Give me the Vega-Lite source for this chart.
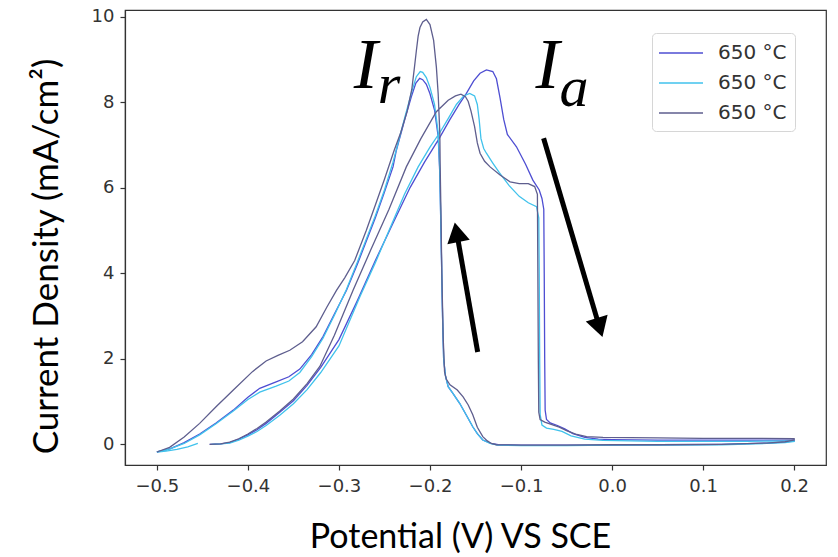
{
  "$schema": "https://vega.github.io/schema/vega-lite/v6.json",
  "autosize": "none",
  "width": 701,
  "height": 455,
  "padding": {"left": 125, "top": 10, "right": 12, "bottom": 92},
  "background": "white",
  "config": {
    "view": {"stroke": "#333333", "strokeWidth": 1.2},
    "axis": {
      "grid": false,
      "domainColor": "#333333",
      "domainWidth": 1.2,
      "tickColor": "#333333",
      "tickSize": 5,
      "tickWidth": 1.2,
      "labelFont": "DejaVu Sans",
      "labelFontSize": 18,
      "labelColor": "#333333",
      "titleFont": "Lato",
      "titleFontSize": 34,
      "titleFontWeight": "normal",
      "titleColor": "#000000"
    }
  },
  "datasets": {
    "curves": [
      {"s":"A","o":1,"v":-0.442,"i":0.0},{"s":"A","o":2,"v":-0.43,"i":0.01},{"s":"A","o":3,"v":-0.42,"i":0.04},{"s":"A","o":4,"v":-0.41,"i":0.12},{"s":"A","o":5,"v":-0.40,"i":0.22},{"s":"A","o":6,"v":-0.39,"i":0.34},{"s":"A","o":7,"v":-0.38,"i":0.49},{"s":"A","o":8,"v":-0.365,"i":0.75},{"s":"A","o":9,"v":-0.35,"i":1.02},{"s":"A","o":10,"v":-0.335,"i":1.38},{"s":"A","o":11,"v":-0.32,"i":1.8},{"s":"A","o":12,"v":-0.30,"i":2.45},{"s":"A","o":13,"v":-0.28,"i":3.35},{"s":"A","o":14,"v":-0.26,"i":4.3},{"s":"A","o":15,"v":-0.24,"i":5.2},{"s":"A","o":16,"v":-0.222,"i":6.0},{"s":"A","o":17,"v":-0.206,"i":6.6},{"s":"A","o":18,"v":-0.19,"i":7.15},{"s":"A","o":19,"v":-0.178,"i":7.6},{"s":"A","o":20,"v":-0.168,"i":7.95},{"s":"A","o":21,"v":-0.16,"i":8.21},{"s":"A","o":22,"v":-0.152,"i":8.5},{"s":"A","o":23,"v":-0.145,"i":8.68},{"s":"A","o":24,"v":-0.138,"i":8.76},{"s":"A","o":25,"v":-0.131,"i":8.72},{"s":"A","o":26,"v":-0.127,"i":8.55},{"s":"A","o":27,"v":-0.123,"i":8.1},{"s":"A","o":28,"v":-0.119,"i":7.6},{"s":"A","o":29,"v":-0.115,"i":7.25},{"s":"A","o":30,"v":-0.105,"i":6.96},{"s":"A","o":31,"v":-0.095,"i":6.55},{"s":"A","o":32,"v":-0.087,"i":6.18},{"s":"A","o":33,"v":-0.08,"i":5.95},{"s":"A","o":34,"v":-0.077,"i":5.75},{"s":"A","o":35,"v":-0.075,"i":5.5},{"s":"A","o":36,"v":-0.0745,"i":4.0},{"s":"A","o":37,"v":-0.074,"i":2.0},{"s":"A","o":38,"v":-0.0735,"i":0.8},{"s":"A","o":39,"v":-0.072,"i":0.58},{"s":"A","o":40,"v":-0.068,"i":0.5},{"s":"A","o":41,"v":-0.06,"i":0.44},{"s":"A","o":42,"v":-0.052,"i":0.36},{"s":"A","o":43,"v":-0.043,"i":0.25},{"s":"A","o":44,"v":-0.03,"i":0.16},{"s":"A","o":45,"v":-0.015,"i":0.12},{"s":"A","o":46,"v":0.0,"i":0.11},{"s":"A","o":47,"v":0.05,"i":0.1},{"s":"A","o":48,"v":0.1,"i":0.1},{"s":"A","o":49,"v":0.15,"i":0.1},{"s":"A","o":50,"v":0.18,"i":0.1},{"s":"A","o":51,"v":0.2,"i":0.1},{"s":"A","o":52,"v":0.2,"i":0.08},{"s":"A","o":53,"v":0.19,"i":0.05},{"s":"A","o":54,"v":0.17,"i":0.03},{"s":"A","o":55,"v":0.12,"i":0.0},{"s":"A","o":56,"v":0.05,"i":-0.01},{"s":"A","o":57,"v":0.0,"i":-0.02},{"s":"A","o":58,"v":-0.05,"i":-0.02},{"s":"A","o":59,"v":-0.1,"i":-0.02},{"s":"A","o":60,"v":-0.125,"i":-0.01},{"s":"A","o":61,"v":-0.133,"i":0.02},{"s":"A","o":62,"v":-0.142,"i":0.1},{"s":"A","o":63,"v":-0.148,"i":0.25},{"s":"A","o":64,"v":-0.153,"i":0.41},{"s":"A","o":65,"v":-0.16,"i":0.68},{"s":"A","o":66,"v":-0.1674,"i":0.96},{"s":"A","o":67,"v":-0.175,"i":1.2},{"s":"A","o":68,"v":-0.18,"i":1.35},{"s":"A","o":69,"v":-0.183,"i":1.6},{"s":"A","o":70,"v":-0.185,"i":2.0},{"s":"A","o":71,"v":-0.1862,"i":3.0},{"s":"A","o":72,"v":-0.1875,"i":4.5},{"s":"A","o":73,"v":-0.1885,"i":5.6},{"s":"A","o":74,"v":-0.1894,"i":6.42},{"s":"A","o":75,"v":-0.191,"i":7.2},{"s":"A","o":76,"v":-0.195,"i":7.82},{"s":"A","o":77,"v":-0.2,"i":8.2},{"s":"A","o":78,"v":-0.204,"i":8.42},{"s":"A","o":79,"v":-0.208,"i":8.53},{"s":"A","o":80,"v":-0.2113,"i":8.56},{"s":"A","o":81,"v":-0.2155,"i":8.45},{"s":"A","o":82,"v":-0.2205,"i":8.13},{"s":"A","o":83,"v":-0.2278,"i":7.59},{"s":"A","o":84,"v":-0.2369,"i":6.88},{"s":"A","o":85,"v":-0.2406,"i":6.49},{"s":"A","o":86,"v":-0.25,"i":5.9},{"s":"A","o":87,"v":-0.26,"i":5.3},{"s":"A","o":88,"v":-0.27,"i":4.75},{"s":"A","o":89,"v":-0.28,"i":4.2},{"s":"A","o":90,"v":-0.2918,"i":3.6},{"s":"A","o":91,"v":-0.305,"i":3.05},{"s":"A","o":92,"v":-0.3175,"i":2.52},{"s":"A","o":93,"v":-0.33,"i":2.1},{"s":"A","o":94,"v":-0.343,"i":1.76},{"s":"A","o":95,"v":-0.355,"i":1.58},{"s":"A","o":96,"v":-0.369,"i":1.46},{"s":"A","o":97,"v":-0.387,"i":1.31},{"s":"A","o":98,"v":-0.40,"i":1.1},{"s":"A","o":99,"v":-0.416,"i":0.8},{"s":"A","o":100,"v":-0.435,"i":0.5},{"s":"A","o":101,"v":-0.453,"i":0.24},{"s":"A","o":102,"v":-0.47,"i":0.04},{"s":"A","o":103,"v":-0.485,"i":-0.1},{"s":"A","o":104,"v":-0.5,"i":-0.18},

      {"s":"B","o":1,"v":-0.44,"i":0.0},{"s":"B","o":2,"v":-0.43,"i":0.01},{"s":"B","o":3,"v":-0.42,"i":0.03},{"s":"B","o":4,"v":-0.41,"i":0.1},{"s":"B","o":5,"v":-0.40,"i":0.19},{"s":"B","o":6,"v":-0.39,"i":0.3},{"s":"B","o":7,"v":-0.38,"i":0.44},{"s":"B","o":8,"v":-0.365,"i":0.68},{"s":"B","o":9,"v":-0.35,"i":0.95},{"s":"B","o":10,"v":-0.335,"i":1.28},{"s":"B","o":11,"v":-0.32,"i":1.68},{"s":"B","o":12,"v":-0.30,"i":2.3},{"s":"B","o":13,"v":-0.277,"i":3.45},{"s":"B","o":14,"v":-0.26,"i":4.25},{"s":"B","o":15,"v":-0.245,"i":5.0},{"s":"B","o":16,"v":-0.228,"i":5.85},{"s":"B","o":17,"v":-0.213,"i":6.49},{"s":"B","o":18,"v":-0.2,"i":6.95},{"s":"B","o":19,"v":-0.189,"i":7.3},{"s":"B","o":20,"v":-0.18,"i":7.62},{"s":"B","o":21,"v":-0.171,"i":7.95},{"s":"B","o":22,"v":-0.163,"i":8.15},{"s":"B","o":23,"v":-0.1564,"i":8.21},{"s":"B","o":24,"v":-0.151,"i":8.15},{"s":"B","o":25,"v":-0.148,"i":7.95},{"s":"B","o":26,"v":-0.146,"i":7.6},{"s":"B","o":27,"v":-0.144,"i":7.15},{"s":"B","o":28,"v":-0.141,"i":6.92},{"s":"B","o":29,"v":-0.138,"i":6.81},{"s":"B","o":30,"v":-0.131,"i":6.58},{"s":"B","o":31,"v":-0.124,"i":6.36},{"s":"B","o":32,"v":-0.113,"i":6.05},{"s":"B","o":33,"v":-0.102,"i":5.8},{"s":"B","o":34,"v":-0.092,"i":5.65},{"s":"B","o":35,"v":-0.083,"i":5.56},{"s":"B","o":36,"v":-0.0805,"i":5.3},{"s":"B","o":37,"v":-0.08,"i":4.0},{"s":"B","o":38,"v":-0.0795,"i":2.0},{"s":"B","o":39,"v":-0.079,"i":0.7},{"s":"B","o":40,"v":-0.077,"i":0.45},{"s":"B","o":41,"v":-0.072,"i":0.38},{"s":"B","o":42,"v":-0.064,"i":0.35},{"s":"B","o":43,"v":-0.055,"i":0.3},{"s":"B","o":44,"v":-0.045,"i":0.2},{"s":"B","o":45,"v":-0.03,"i":0.12},{"s":"B","o":46,"v":-0.01,"i":0.09},{"s":"B","o":47,"v":0.05,"i":0.07},{"s":"B","o":48,"v":0.1,"i":0.07},{"s":"B","o":49,"v":0.15,"i":0.07},{"s":"B","o":50,"v":0.2,"i":0.08},{"s":"B","o":51,"v":0.2,"i":0.07},{"s":"B","o":52,"v":0.19,"i":0.04},{"s":"B","o":53,"v":0.17,"i":0.02},{"s":"B","o":54,"v":0.12,"i":-0.01},{"s":"B","o":55,"v":0.05,"i":-0.02},{"s":"B","o":56,"v":0.0,"i":-0.02},{"s":"B","o":57,"v":-0.05,"i":-0.03},{"s":"B","o":58,"v":-0.1,"i":-0.03},{"s":"B","o":59,"v":-0.126,"i":-0.02},{"s":"B","o":60,"v":-0.134,"i":0.02},{"s":"B","o":61,"v":-0.142,"i":0.1},{"s":"B","o":62,"v":-0.148,"i":0.25},{"s":"B","o":63,"v":-0.153,"i":0.41},{"s":"B","o":64,"v":-0.16,"i":0.68},{"s":"B","o":65,"v":-0.1674,"i":0.96},{"s":"B","o":66,"v":-0.175,"i":1.2},{"s":"B","o":67,"v":-0.18,"i":1.35},{"s":"B","o":68,"v":-0.183,"i":1.6},{"s":"B","o":69,"v":-0.185,"i":2.0},{"s":"B","o":70,"v":-0.1862,"i":3.0},{"s":"B","o":71,"v":-0.1875,"i":4.5},{"s":"B","o":72,"v":-0.1885,"i":5.6},{"s":"B","o":73,"v":-0.1894,"i":6.5},{"s":"B","o":74,"v":-0.191,"i":7.3},{"s":"B","o":75,"v":-0.195,"i":7.95},{"s":"B","o":76,"v":-0.2,"i":8.35},{"s":"B","o":77,"v":-0.204,"i":8.58},{"s":"B","o":78,"v":-0.208,"i":8.7},{"s":"B","o":79,"v":-0.2107,"i":8.72},{"s":"B","o":80,"v":-0.215,"i":8.6},{"s":"B","o":81,"v":-0.22,"i":8.25},{"s":"B","o":82,"v":-0.227,"i":7.7},{"s":"B","o":83,"v":-0.235,"i":7.05},{"s":"B","o":84,"v":-0.2406,"i":6.6},{"s":"B","o":85,"v":-0.25,"i":5.95},{"s":"B","o":86,"v":-0.26,"i":5.35},{"s":"B","o":87,"v":-0.27,"i":4.8},{"s":"B","o":88,"v":-0.28,"i":4.25},{"s":"B","o":89,"v":-0.2918,"i":3.62},{"s":"B","o":90,"v":-0.305,"i":3.02},{"s":"B","o":91,"v":-0.3175,"i":2.48},{"s":"B","o":92,"v":-0.33,"i":2.05},{"s":"B","o":93,"v":-0.343,"i":1.68},{"s":"B","o":94,"v":-0.355,"i":1.48},{"s":"B","o":95,"v":-0.369,"i":1.36},{"s":"B","o":96,"v":-0.387,"i":1.22},{"s":"B","o":97,"v":-0.40,"i":1.05},{"s":"B","o":98,"v":-0.416,"i":0.78},{"s":"B","o":99,"v":-0.435,"i":0.48},{"s":"B","o":100,"v":-0.453,"i":0.22},{"s":"B","o":101,"v":-0.47,"i":0.02},{"s":"B","o":102,"v":-0.485,"i":-0.1},{"s":"B","o":103,"v":-0.5,"i":-0.18},{"s":"B","o":104,"v":-0.49,"i":-0.16},{"s":"B","o":105,"v":-0.478,"i":-0.12},{"s":"B","o":106,"v":-0.466,"i":-0.06},{"s":"B","o":107,"v":-0.455,"i":0.02},

      {"s":"C","o":1,"v":-0.442,"i":0.0},{"s":"C","o":2,"v":-0.43,"i":0.01},{"s":"C","o":3,"v":-0.42,"i":0.05},{"s":"C","o":4,"v":-0.41,"i":0.13},{"s":"C","o":5,"v":-0.40,"i":0.24},{"s":"C","o":6,"v":-0.39,"i":0.37},{"s":"C","o":7,"v":-0.38,"i":0.52},{"s":"C","o":8,"v":-0.365,"i":0.78},{"s":"C","o":9,"v":-0.35,"i":1.06},{"s":"C","o":10,"v":-0.335,"i":1.42},{"s":"C","o":11,"v":-0.321,"i":1.82},{"s":"C","o":12,"v":-0.305,"i":2.55},{"s":"C","o":13,"v":-0.2846,"i":3.6},{"s":"C","o":14,"v":-0.265,"i":4.55},{"s":"C","o":15,"v":-0.245,"i":5.5},{"s":"C","o":16,"v":-0.226,"i":6.49},{"s":"C","o":17,"v":-0.21,"i":7.15},{"s":"C","o":18,"v":-0.193,"i":7.78},{"s":"C","o":19,"v":-0.18,"i":8.05},{"s":"C","o":20,"v":-0.172,"i":8.15},{"s":"C","o":21,"v":-0.166,"i":8.19},{"s":"C","o":22,"v":-0.161,"i":8.13},{"s":"C","o":23,"v":-0.158,"i":8.02},{"s":"C","o":24,"v":-0.155,"i":7.8},{"s":"C","o":25,"v":-0.151,"i":7.43},{"s":"C","o":26,"v":-0.148,"i":7.05},{"s":"C","o":27,"v":-0.145,"i":6.81},{"s":"C","o":28,"v":-0.14,"i":6.62},{"s":"C","o":29,"v":-0.134,"i":6.49},{"s":"C","o":30,"v":-0.123,"i":6.3},{"s":"C","o":31,"v":-0.112,"i":6.14},{"s":"C","o":32,"v":-0.102,"i":6.1},{"s":"C","o":33,"v":-0.092,"i":6.1},{"s":"C","o":34,"v":-0.085,"i":6.03},{"s":"C","o":35,"v":-0.082,"i":5.85},{"s":"C","o":36,"v":-0.0815,"i":4.0},{"s":"C","o":37,"v":-0.081,"i":2.0},{"s":"C","o":38,"v":-0.0805,"i":0.75},{"s":"C","o":39,"v":-0.079,"i":0.58},{"s":"C","o":40,"v":-0.074,"i":0.52},{"s":"C","o":41,"v":-0.066,"i":0.46},{"s":"C","o":42,"v":-0.058,"i":0.4},{"s":"C","o":43,"v":-0.05,"i":0.32},{"s":"C","o":44,"v":-0.04,"i":0.24},{"s":"C","o":45,"v":-0.028,"i":0.18},{"s":"C","o":46,"v":-0.01,"i":0.16},{"s":"C","o":47,"v":0.05,"i":0.15},{"s":"C","o":48,"v":0.1,"i":0.14},{"s":"C","o":49,"v":0.15,"i":0.14},{"s":"C","o":50,"v":0.2,"i":0.13},{"s":"C","o":51,"v":0.2,"i":0.1},{"s":"C","o":52,"v":0.19,"i":0.06},{"s":"C","o":53,"v":0.17,"i":0.03},{"s":"C","o":54,"v":0.12,"i":0.0},{"s":"C","o":55,"v":0.05,"i":-0.01},{"s":"C","o":56,"v":0.0,"i":-0.01},{"s":"C","o":57,"v":-0.05,"i":-0.02},{"s":"C","o":58,"v":-0.1,"i":-0.02},{"s":"C","o":59,"v":-0.127,"i":-0.01},{"s":"C","o":60,"v":-0.1326,"i":0.02},{"s":"C","o":61,"v":-0.137,"i":0.08},{"s":"C","o":62,"v":-0.142,"i":0.18},{"s":"C","o":63,"v":-0.148,"i":0.4},{"s":"C","o":64,"v":-0.153,"i":0.69},{"s":"C","o":65,"v":-0.158,"i":0.92},{"s":"C","o":66,"v":-0.1636,"i":1.11},{"s":"C","o":67,"v":-0.17,"i":1.27},{"s":"C","o":68,"v":-0.178,"i":1.39},{"s":"C","o":69,"v":-0.182,"i":1.52},{"s":"C","o":70,"v":-0.184,"i":1.7},{"s":"C","o":71,"v":-0.1855,"i":2.5},{"s":"C","o":72,"v":-0.187,"i":4.0},{"s":"C","o":73,"v":-0.188,"i":5.5},{"s":"C","o":74,"v":-0.1888,"i":6.5},{"s":"C","o":75,"v":-0.1892,"i":7.28},{"s":"C","o":76,"v":-0.191,"i":8.2},{"s":"C","o":77,"v":-0.193,"i":8.83},{"s":"C","o":78,"v":-0.196,"i":9.45},{"s":"C","o":79,"v":-0.2,"i":9.82},{"s":"C","o":80,"v":-0.204,"i":9.94},{"s":"C","o":81,"v":-0.208,"i":9.88},{"s":"C","o":82,"v":-0.211,"i":9.75},{"s":"C","o":83,"v":-0.213,"i":9.55},{"s":"C","o":84,"v":-0.215,"i":9.2},{"s":"C","o":85,"v":-0.217,"i":8.83},{"s":"C","o":86,"v":-0.22,"i":8.3},{"s":"C","o":87,"v":-0.225,"i":7.8},{"s":"C","o":88,"v":-0.232,"i":7.3},{"s":"C","o":89,"v":-0.2393,"i":6.88},{"s":"C","o":90,"v":-0.25,"i":6.2},{"s":"C","o":91,"v":-0.26,"i":5.6},{"s":"C","o":92,"v":-0.27,"i":5.0},{"s":"C","o":93,"v":-0.2827,"i":4.3},{"s":"C","o":94,"v":-0.2935,"i":3.9},{"s":"C","o":95,"v":-0.3027,"i":3.6},{"s":"C","o":96,"v":-0.3135,"i":3.2},{"s":"C","o":97,"v":-0.325,"i":2.75},{"s":"C","o":98,"v":-0.34,"i":2.4},{"s":"C","o":99,"v":-0.354,"i":2.2},{"s":"C","o":100,"v":-0.367,"i":2.08},{"s":"C","o":101,"v":-0.38,"i":1.95},{"s":"C","o":102,"v":-0.395,"i":1.7},{"s":"C","o":103,"v":-0.416,"i":1.27},{"s":"C","o":104,"v":-0.435,"i":0.88},{"s":"C","o":105,"v":-0.453,"i":0.49},{"s":"C","o":106,"v":-0.47,"i":0.17},{"s":"C","o":107,"v":-0.486,"i":-0.07},{"s":"C","o":108,"v":-0.5,"i":-0.18}
    ]
  },
  "layer": [
    {
      "data": {"name": "curves"},
      "mark": {"type": "line", "strokeWidth": 1.3, "clip": true},
      "encoding": {
        "x": {
          "field": "v", "type": "quantitative",
          "scale": {"domain": [-0.535, 0.235], "nice": false, "zero": false},
          "axis": {
            "values": [-0.5, -0.4, -0.3, -0.2, -0.1, 0.0, 0.1, 0.2],
            "format": ".1f",
            "labelPadding": 7,
            "title": "Potential (V) VS SCE",
            "titleX": 335,
            "titleY": 82,
            "titleBaseline": "alphabetic",
            "titleAnchor": null
          }
        },
        "y": {
          "field": "i", "type": "quantitative",
          "scale": {"domain": [-0.484, 10.16], "nice": false, "zero": false},
          "axis": {
            "values": [0, 2, 4, 6, 8, 10],
            "format": "d",
            "labelPadding": 6,
            "title": "Current Density (mA/cm²)",
            "titleFontSize": 35,
            "titleX": -68,
            "titleY": 246,
            "titleAngle": -90,
            "titleAlign": "center",
            "titleBaseline": "alphabetic"
          }
        },
        "color": {
          "field": "s", "type": "nominal",
          "scale": {"domain": ["A", "B", "C"], "range": ["#4e4ed2", "#40c2ec", "#5e5e8e"]},
          "legend": {
            "title": null,
            "orient": "none",
            "legendX": 527,
            "legendY": 23,
            "labelExpr": "'650 °C'",
            "symbolType": "M-2,0H2",
            "symbolSize": 484,
            "symbolStrokeWidth": 1.6,
            "symbolOffset": 9,
            "labelFont": "DejaVu Sans",
            "labelFontSize": 20,
            "labelColor": "#333333",
            "labelOffset": 25,
            "padding": 8,
            "rowPadding": 8,
            "strokeColor": "#d6d6d6",
            "fillColor": "white",
            "cornerRadius": 4
          }
        },
        "detail": {"field": "s"},
        "order": {"field": "o", "type": "quantitative"}
      }
    },
    {
      "data": {"values": [
        {"v": -0.1476, "i": 2.16, "v2": -0.1707, "i2": 4.96},
        {"v": -0.0752, "i": 7.16, "v2": -0.0137, "i2": 2.73}
      ]},
      "mark": {"type": "rule", "strokeWidth": 5, "color": "#000000"},
      "encoding": {
        "x": {"field": "v", "type": "quantitative"},
        "y": {"field": "i", "type": "quantitative"},
        "x2": {"field": "v2"},
        "y2": {"field": "i2"}
      }
    },
    {
      "data": {"values": [{"v": -0.1707, "i": 4.96}]},
      "mark": {"type": "point", "shape": "triangle-up", "filled": true, "color": "#000000", "opacity": 1, "size": 520, "angle": -11},
      "encoding": {
        "x": {"field": "v", "type": "quantitative"},
        "y": {"field": "i", "type": "quantitative"}
      }
    },
    {
      "data": {"values": [{"v": -0.0137, "i": 2.73}]},
      "mark": {"type": "point", "shape": "triangle-up", "filled": true, "color": "#000000", "opacity": 1, "size": 520, "angle": 163},
      "encoding": {
        "x": {"field": "v", "type": "quantitative"},
        "y": {"field": "i", "type": "quantitative"}
      }
    },
    {
      "data": {"values": [
        {"v": -0.2706, "i": 8.33, "t": "I"},
        {"v": -0.0708, "i": 8.33, "t": "I"}
      ]},
      "mark": {"type": "text", "font": "Liberation Serif", "fontStyle": "italic", "fontSize": 72, "align": "center", "baseline": "alphabetic", "color": "#000000"},
      "encoding": {
        "x": {"field": "v", "type": "quantitative"},
        "y": {"field": "i", "type": "quantitative"},
        "text": {"field": "t"}
      }
    },
    {
      "data": {"values": [
        {"v": -0.2574, "i": 7.98, "t": "r"},
        {"v": -0.0576, "i": 7.91, "t": "a"}
      ]},
      "mark": {"type": "text", "font": "Liberation Serif", "fontStyle": "italic", "fontSize": 58, "align": "left", "baseline": "alphabetic", "color": "#000000"},
      "encoding": {
        "x": {"field": "v", "type": "quantitative"},
        "y": {"field": "i", "type": "quantitative"},
        "text": {"field": "t"}
      }
    }
  ]
}
